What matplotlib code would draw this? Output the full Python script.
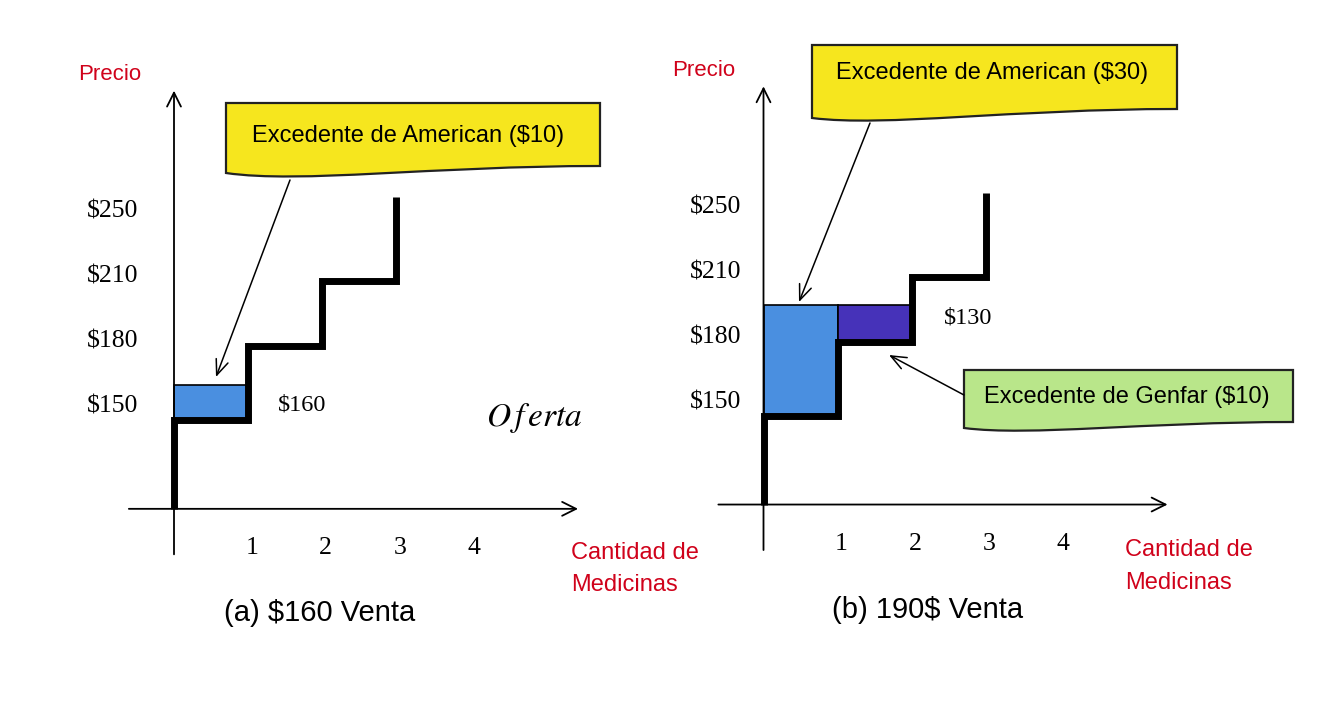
import matplotlib
matplotlib.use('Agg')
import matplotlib.pyplot as plt
from matplotlib.path import Path
from matplotlib.patches import PathPatch, Rectangle

plt.rcParams['text.parse_math'] = False
plt.rcParams['mathtext.fontset'] = 'stix'

# supply curve (quantity, price)
SUPPLY_Q = [0, 0, 1, 1, 2, 2, 3, 3]
SUPPLY_P = [103, 144, 144, 178, 178, 208, 208, 247]

QTY_TICKS = [1, 2, 3, 4]
PRICE_LABELS = ['$150', '$180', '$210', '$250']
PRICE_LABEL_POS = [150, 180, 210, 240]

# surplus boxes: (q0, q1, p0, p1)
AMERICAN_A = (0, 1, 144, 160)
AMERICAN_B = (0, 1, 144, 195)
GENFAR_B = (1, 2, 178, 195)

RED = '#d0021b'
BLUE = '#4a8fe0'
PURPLE = '#4632b9'
YELLOW = '#f6e61e'
GREEN = '#b9e68a'
SANS = 'Liberation Sans'
SERIF = 'Liberation Serif'

W, H = 1324, 702
PX_Q = 74.0
PX_USD = 2.1667
AXIS_P = 103

fig = plt.figure(figsize=(W / 100, H / 100), dpi=100)


def data_axes(name, ox, py150):
    ax = fig.add_axes([0, 0, 1, 1], label=name, facecolor='none')
    ax.set_xlim(-ox / PX_Q, (W - ox) / PX_Q)
    ax.set_ylim(150 - (H - py150) / PX_USD, 150 + py150 / PX_USD)
    ax.axis('off')
    return ax


def draw_panel(ax, boxes, ylab_q):
    arrow = dict(arrowstyle='->,head_length=1.0,head_width=0.5', lw=1.3,
                 color='black', shrinkA=0, shrinkB=0)
    ax.annotate('', xy=(0, 296), xytext=(0, 82), arrowprops=arrow)
    ax.annotate('', xy=(5.46, AXIS_P), xytext=(-0.61, AXIS_P), arrowprops=arrow)
    for (q0, q1, p0, p1), col in boxes:
        ax.add_patch(Rectangle((q0, p0), q1 - q0, p1 - p0, fc=col, ec='black',
                               lw=1.2, zorder=2))
    ax.plot(SUPPLY_Q, SUPPLY_P, color='black', lw=5, solid_joinstyle='miter',
            solid_capstyle='butt', zorder=3)
    for q in QTY_TICKS:
        ax.text(q + 0.05, 85, str(q), ha='center', va='center',
                fontsize=18.5, family=SERIF)
    for pos, lab in zip(PRICE_LABEL_POS, PRICE_LABELS):
        ax.text(ylab_q, pos, lab, ha='center', va='center',
                fontsize=18.5, family=SERIF)


ax_a = data_axes('a', 174, 407)
draw_panel(ax_a, [(AMERICAN_A, BLUE)], -0.824)
ax_b = data_axes('b', 763.5, 402.7)
draw_panel(ax_b, [(AMERICAN_B, BLUE), (GENFAR_B, PURPLE)], -0.642)

# overlay in pixel space for callouts and labels
ov = fig.add_axes([0, 0, 1, 1], label='overlay', facecolor='none')
ov.set_xlim(0, W)
ov.set_ylim(H, 0)
ov.axis('off')


def callout(x0, x1, top, rb, lb, dip, color):
    w = x1 - x0
    verts = [(x0, top), (x1, top), (x1, rb),
             (x1 - 0.45 * w, rb), (x0 + 0.2 * w, lb + 2.3 * (dip - lb)), (x0, lb),
             (x0, top)]
    codes = [Path.MOVETO, Path.LINETO, Path.LINETO,
             Path.CURVE4, Path.CURVE4, Path.CURVE4, Path.CLOSEPOLY]
    ov.add_patch(PathPatch(Path(verts, codes), fc=color, ec='#222222', lw=1.6,
                           zorder=4))


def pointer(x0, y0, x1, y1):
    ov.annotate('', xy=(x1, y1), xytext=(x0, y0),
                arrowprops=dict(arrowstyle='->,head_length=1.1,head_width=0.45',
                                lw=1.1, color='black', shrinkA=0, shrinkB=0),
                zorder=5)


# panel (a)
ov.text(110, 75, 'Precio', color=RED, fontsize=16, family=SANS,
        ha='center', va='center')
callout(226, 600, 103, 166, 173, 177.7, YELLOW)
ov.text(408, 136, 'Excedente de American ($10)', fontsize=17, family=SANS,
        ha='center', va='center', zorder=6)
pointer(290, 180, 216, 377)
ov.text(302, 405, '$160', fontsize=17.5, family=SERIF, ha='center', va='center')
ov.text(534, 418, r'$O\,f\,erta$', parse_math=True, fontsize=24,
        ha='center', va='center')
ov.text(571, 553, 'Cantidad de', color=RED, fontsize=17, family=SANS,
        ha='left', va='center')
ov.text(571, 585, 'Medicinas', color=RED, fontsize=17, family=SANS,
        ha='left', va='center')
ov.text(320, 613, '(a) $160 Venta', fontsize=21, family=SANS,
        ha='center', va='center')

# panel (b)
ov.text(704, 70, 'Precio', color=RED, fontsize=16, family=SANS,
        ha='center', va='center')
callout(812, 1177, 45, 109, 118, 122, YELLOW)
ov.text(992, 73, 'Excedente de American ($30)', fontsize=17, family=SANS,
        ha='center', va='center', zorder=6)
pointer(870, 123, 799, 302)
ov.text(968, 318, '$130', fontsize=17.5, family=SERIF, ha='center', va='center')
callout(964, 1293, 370, 422, 428, 431.7, GREEN)
ov.text(1127, 397, 'Excedente de Genfar ($10)', fontsize=17, family=SANS,
        ha='center', va='center', zorder=6)
pointer(964, 395, 889, 355)
ov.text(1125, 550, 'Cantidad de', color=RED, fontsize=17, family=SANS,
        ha='left', va='center')
ov.text(1125, 583, 'Medicinas', color=RED, fontsize=17, family=SANS,
        ha='left', va='center')
ov.text(928, 610, '(b) 190$ Venta', fontsize=21, family=SANS,
        ha='center', va='center')

fig.savefig('out.png', dpi=100, facecolor='white')
